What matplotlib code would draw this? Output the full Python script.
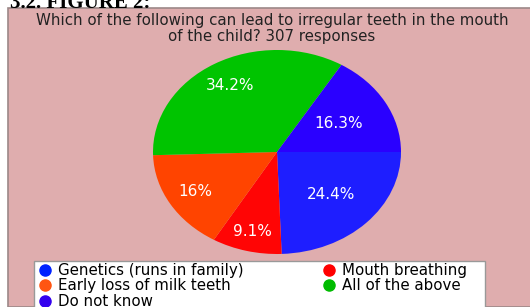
import matplotlib.pyplot as plt
import numpy as np
from matplotlib.lines import Line2D
from matplotlib.patches import Rectangle

categories = ["Genetics (runs in family)", "Mouth breathing", "Early loss of milk teeth",
              "All of the above", "Do not know"]
values = [24.4, 9.1, 16.0, 34.2, 16.3]
pct_labels = ["24.4%", "9.1%", "16%", "34.2%", "16.3%"]
colors = ["#1e1eff", "#ff0505", "#ff4400", "#00c400", "#2a00ff"]
legend_colors = ["#0022ff", "#ff0000", "#ff5511", "#00bb00", "#3300ee"]
label_dist = [0.6, 0.8, 0.77, 0.75, 0.57]

W, H = 530, 307
fig = plt.figure(figsize=(W / 100, H / 100), dpi=100)
fig.patch.set_facecolor("white")


def fx(px):
    return px / W


def fy(py):
    return 1 - py / H


# pink panel behind everything
fig.patches.append(Rectangle((fx(8), 0), 1, fy(8), transform=fig.transFigure,
                             facecolor="#dfadae", edgecolor="#9c8888", linewidth=1.2,
                             zorder=-5))

fig.text(fx(10), fy(7.5), "3.2. FIGURE 2:", family="Liberation Serif", weight="bold",
         fontsize=15, color="black", va="baseline")

fig.text(fx(272), fy(25), "Which of the following can lead to irregular teeth in the mouth",
         family="DejaVu Sans", fontsize=10.8, color="#222222", ha="center", va="baseline")
fig.text(fx(272), fy(41), "of the child? 307 responses",
         family="DejaVu Sans", fontsize=10.8, color="#222222", ha="center", va="baseline")

ax = fig.add_axes([fx(153), fy(254), fx(248), (254 - 50) / H])
ax.patch.set_visible(False)
wedges, _ = ax.pie(values, colors=colors, startangle=0, counterclock=False,
                   wedgeprops={"linewidth": 0})
ax.set_aspect("auto")
ax.set_xlim(-1, 1)
ax.set_ylim(-1, 1)
ax.axis("off")

for w, lab, d in zip(wedges, pct_labels, label_dist):
    ang = np.deg2rad((w.theta1 + w.theta2) / 2)
    ax.text(d * np.cos(ang), d * np.sin(ang), lab, ha="center", va="center",
            color="white", family="DejaVu Sans", fontsize=11)

# legend box
fig.patches.append(Rectangle((fx(34), -0.1), fx(451), fy(261) + 0.1, transform=fig.transFigure,
                             facecolor="white", edgecolor="#999999", linewidth=1, zorder=2))

order = [0, 2, 4, 1, 3]
handles = [Line2D([], [], marker="o", linestyle="none", markersize=8,
                  markerfacecolor=legend_colors[i], markeredgecolor=legend_colors[i])
           for i in order]
leg = fig.legend(handles, [categories[i] for i in order], ncol=2, frameon=False,
                 loc="upper left", bbox_to_anchor=(fx(39), fy(263)),
                 prop={"family": "DejaVu Sans", "size": 10.8},
                 labelspacing=0.03, handlelength=0.8, handletextpad=0.45,
                 columnspacing=5.3, borderpad=0, borderaxespad=0)
leg.set_zorder(5)

fig.savefig("out.png", dpi=100)
